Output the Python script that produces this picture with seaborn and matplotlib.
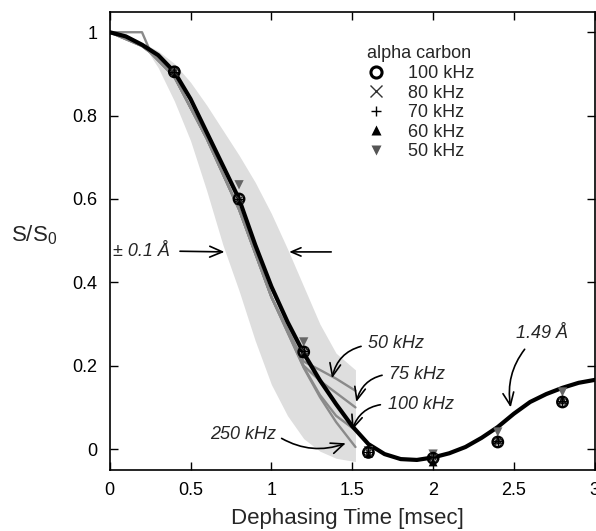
import matplotlib
matplotlib.use("Agg")
import matplotlib.pyplot as plt
import seaborn as sns
import numpy as np
from matplotlib.lines import Line2D

# ---------------- data ----------------
theory_t = [0, 0.1, 0.2, 0.3, 0.4, 0.5, 0.6, 0.7, 0.8, 0.9, 1.0, 1.1, 1.2, 1.3, 1.4, 1.5,
            1.6, 1.7, 1.8, 1.9, 2.0, 2.1, 2.2, 2.3, 2.4, 2.5, 2.6, 2.7, 2.8, 2.9, 3.0]
theory_s = [1.0, 0.99, 0.97, 0.945, 0.905, 0.84, 0.76, 0.68, 0.60, 0.49, 0.39, 0.305, 0.23, 0.165,
            0.108, 0.055, 0.012, -0.012, -0.024, -0.026, -0.02, -0.01, 0.005, 0.027, 0.053,
            0.085, 0.113, 0.132, 0.147, 0.159, 0.166]

band_t = [0.2, 0.3, 0.4, 0.5, 0.6, 0.7, 0.8, 0.9, 1.0, 1.1, 1.2, 1.3, 1.4, 1.52]
band_hi = [0.975, 0.955, 0.925, 0.88, 0.825, 0.765, 0.705, 0.64, 0.565, 0.48, 0.39, 0.30, 0.23, 0.19]
band_lo = [0.975, 0.915, 0.835, 0.74, 0.62, 0.49, 0.38, 0.26, 0.155, 0.08, 0.025, -0.005, -0.022, -0.03]

sim_t = [0, 0.2, 0.25, 0.4, 0.6, 0.8, 1.0, 1.2, 1.3, 1.4, 1.52]
sim_250 = [1.0, 0.967, 0.952, 0.893, 0.745, 0.575, 0.365, 0.195, 0.125, 0.065, 0.005]
sim_100 = [1.0, 0.967, 0.952, 0.893, 0.745, 0.575, 0.365, 0.197, 0.13, 0.08, 0.045]
sim_75 = [1.0, 0.967, 0.952, 0.893, 0.745, 0.575, 0.365, 0.20, 0.164, 0.135, 0.10]
sim_50 = [1.0, 1.0, 0.955, 0.893, 0.745, 0.575, 0.365, 0.21, 0.19, 0.169, 0.14]

exp_t = [0.4, 0.8, 1.2, 1.6, 2.0, 2.4, 2.8]
exp_100 = [0.905, 0.600, 0.233, -0.008, -0.022, 0.017, 0.113]
exp_80 = [0.905, 0.600, 0.235, -0.008, -0.020, 0.020, 0.115]
exp_70 = [0.905, 0.600, 0.235, -0.008, -0.020, 0.020, 0.115]
exp_60 = [0.905, 0.598, 0.230, -0.010, -0.031, 0.022, 0.118]
exp_50 = [0.905, 0.634, 0.257, -0.004, -0.012, 0.041, 0.137]

x_ticks = [0, 0.5, 1, 1.5, 2, 2.5, 3]
x_ticklabels = ["0", "0.5", "1", "1.5", "2", "2.5", "3"]
y_ticks = [0, 0.2, 0.4, 0.6, 0.8, 1.0]
y_ticklabels = ["0", "0.2", "0.4", "0.6", "0.8", "1"]

# ---------------- style ----------------
sns.set_style("ticks")
plt.rcParams["font.family"] = ["Liberation Sans", "DejaVu Sans"]
plt.rcParams["mathtext.fontset"] = "custom"
plt.rcParams["mathtext.rm"] = "Liberation Sans"
plt.rcParams["mathtext.it"] = "Liberation Sans:italic"

fig = plt.figure(figsize=(5.96, 5.31), dpi=100)
ax = fig.add_axes([0.184, 0.115, 0.814, 0.862])

# band
ax.fill_between(band_t, band_lo, band_hi, color="#dedede", lw=0, zorder=1)

# simulations
for vals in (sim_250, sim_100, sim_75, sim_50):
    sns.lineplot(x=sim_t, y=vals, color="#8a8a8a", lw=1.7, ax=ax, zorder=2)

# theory
sns.lineplot(x=theory_t, y=theory_s, color="black", lw=3.0, ax=ax, zorder=3)

# experimental points
sns.scatterplot(x=exp_t, y=exp_50, marker="v", s=45, color="#666666", edgecolor="none", ax=ax, zorder=4)
sns.scatterplot(x=exp_t, y=exp_60, marker="^", s=40, color="black", edgecolor="none", ax=ax, zorder=4)
sns.scatterplot(x=exp_t, y=exp_100, marker="o", s=55, facecolor="none", edgecolor="black",
                linewidth=1.8, ax=ax, zorder=5)
sns.scatterplot(x=exp_t, y=exp_80, marker="x", s=30, color="#333333", linewidth=0.9, ax=ax, zorder=5)
sns.scatterplot(x=exp_t, y=exp_70, marker="+", s=45, color="black", linewidth=1.0, ax=ax, zorder=5)

# legend
handles = [
    Line2D([], [], ls="none", marker="o", ms=8, mfc="none", mec="black", mew=2.2),
    Line2D([], [], ls="none", marker="x", ms=9, color="#333333", mew=1.0),
    Line2D([], [], ls="none", marker="+", ms=7, color="black", mew=1.0),
    Line2D([], [], ls="none", marker="^", ms=7, color="black", mec="none"),
    Line2D([], [], ls="none", marker="v", ms=7, color="#555555", mec="none"),
]
labels = ["100 kHz", "80 kHz", "70 kHz", "60 kHz", "50 kHz"]
leg = ax.legend(handles, labels, title="alpha carbon", loc="upper left",
                bbox_to_anchor=(0.505, 0.955), frameon=False, fontsize=13, title_fontsize=13,
                labelspacing=0.14, handlelength=1.0, handletextpad=1.25, borderpad=0.2,
                alignment="left")

# annotations
arrow = dict(arrowstyle="->,head_length=0.7,head_width=0.3", color="black", lw=1.2)
tfont = dict(fontsize=13, style="italic")

ax.annotate("± 0.1 Å", xy=(0.71, 0.473), xytext=(0.02, 0.475), ha="left", va="center",
            arrowprops=dict(arrow, shrinkA=5, shrinkB=0, relpos=(1, 0.5)), **tfont)
ax.annotate("", xy=(1.11, 0.473), xytext=(1.37, 0.473),
            arrowprops=dict(arrow, shrinkA=0, shrinkB=0))

ax.annotate("50 kHz", xy=(1.375, 0.17), xytext=(1.60, 0.254), ha="left", va="center",
            arrowprops=dict(arrow, shrinkA=3, shrinkB=0, relpos=(0, 0.4),
                            connectionstyle="arc3,rad=0.35"), **tfont)
ax.annotate("75 kHz", xy=(1.525, 0.113), xytext=(1.73, 0.18), ha="left", va="center",
            arrowprops=dict(arrow, shrinkA=3, shrinkB=0, relpos=(0, 0.5),
                            connectionstyle="arc3,rad=0.35"), **tfont)
ax.annotate("100 kHz", xy=(1.50, 0.046), xytext=(1.72, 0.108), ha="left", va="center",
            arrowprops=dict(arrow, shrinkA=3, shrinkB=0, relpos=(0, 0.5),
                            connectionstyle="arc3,rad=0.35"), **tfont)
ax.annotate("250 kHz", xy=(1.46, 0.014), xytext=(0.62, 0.034), ha="left", va="center",
            arrowprops=dict(arrow, shrinkA=2, shrinkB=0, relpos=(1, 0.5),
                            connectionstyle="arc3,rad=0.25"), **tfont)
ax.annotate("1.49 Å", xy=(2.48, 0.10), xytext=(2.51, 0.278), ha="left", va="center",
            arrowprops=dict(arrow, shrinkA=4, shrinkB=0, relpos=(0.3, 0),
                            connectionstyle="arc3,rad=0.25"), **tfont)

# axes
ax.set_xlim(0, 3)
ax.set_ylim(-0.05, 1.048)
ax.set_xticks(x_ticks)
ax.set_xticklabels(x_ticklabels)
ax.set_yticks(y_ticks)
ax.set_yticklabels(y_ticklabels)
ax.tick_params(direction="in", length=6, width=1.0, top=True, right=True,
               labelsize=13, colors="black")
ax.tick_params(axis="x", pad=9)
ax.tick_params(axis="y", pad=9)
for sp in ax.spines.values():
    sp.set_linewidth(1.2)
    sp.set_color("black")
    sp.set_visible(True)

ax.set_xlabel("Dephasing Time [msec]", fontsize=16, va="baseline")
ax.xaxis.set_label_coords(0.49, -0.118)
ax.set_ylabel("S/S$_0$", fontsize=16, rotation=0, va="center", ha="center")
ax.yaxis.set_label_coords(-0.155, 0.513)

fig.savefig("out.png", dpi=100)
